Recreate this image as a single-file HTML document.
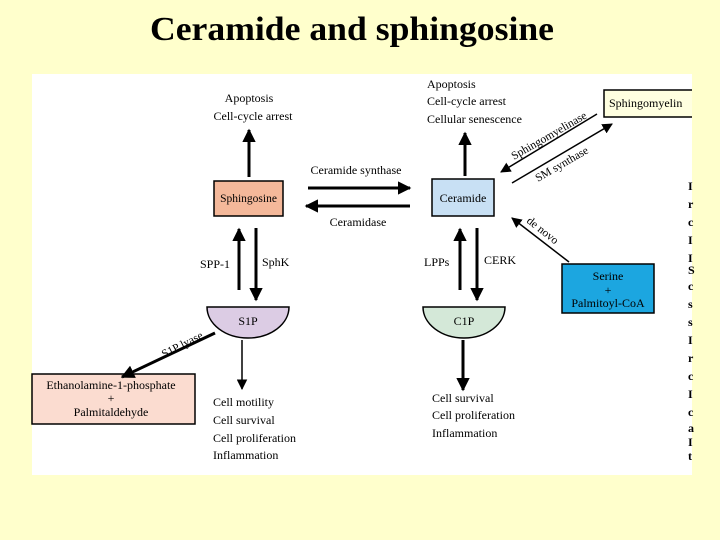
<!DOCTYPE html>
<html><head><style>
body{margin:0;width:720px;height:540px;background:#FFFFCC;overflow:hidden}
svg{position:absolute;left:0;top:0}
</style></head><body>
<svg width="720" height="540" viewBox="0 0 720 540" font-family="Liberation Serif, serif">
<defs>
<marker id="a" viewBox="0 0 10 10" refX="9" refY="5" markerWidth="4.5" markerHeight="4.5" orient="auto"><path d="M0,0L10,5L0,10z" fill="#000"/></marker>
<marker id="b" viewBox="0 0 10 10" refX="9" refY="5" markerWidth="7" markerHeight="7" orient="auto"><path d="M0,0L10,5L0,10z" fill="#000"/></marker>
</defs>
<text x="352" y="40" font-size="34" font-weight="bold" text-anchor="middle" textLength="404" lengthAdjust="spacingAndGlyphs">Ceramide and sphingosine</text>
<rect x="32" y="74" width="660" height="401" fill="#fff"/>
<g font-size="12" fill="#000">
<text x="249" y="102" text-anchor="middle">Apoptosis</text>
<text x="253" y="120" text-anchor="middle">Cell-cycle arrest</text>
<text x="427" y="88">Apoptosis</text>
<text x="427" y="105">Cell-cycle arrest</text>
<text x="427" y="123">Cellular senescence</text>
<text x="356" y="174" text-anchor="middle">Ceramide synthase</text>
<text x="358" y="226" text-anchor="middle">Ceramidase</text>
<text x="200" y="268">SPP-1</text>
<text x="262" y="266">SphK</text>
<text x="424" y="266">LPPs</text>
<text x="484" y="264">CERK</text>
<text x="213" y="406">Cell motility</text>
<text x="213" y="424">Cell survival</text>
<text x="213" y="442">Cell proliferation</text>
<text x="213" y="459">Inflammation</text>
<text x="432" y="402">Cell survival</text>
<text x="432" y="419">Cell proliferation</text>
<text x="432" y="437">Inflammation</text>
</g>
<rect x="214" y="181" width="69" height="35" fill="#F4B89A" stroke="#000" stroke-width="1.5"/>
<text x="248.5" y="202" font-size="11.5" text-anchor="middle">Sphingosine</text>
<rect x="432" y="179" width="62" height="37" fill="#C8E0F4" stroke="#000" stroke-width="1.5"/>
<text x="463" y="202" font-size="12" text-anchor="middle">Ceramide</text>
<path d="M692,90H604V117H692" fill="#FFFFE0" stroke="#000" stroke-width="1.5"/>
<text x="609" y="107" font-size="12">Sphingomyelin</text>
<rect x="562" y="264" width="92" height="49" fill="#1CA6E0" stroke="#000" stroke-width="1.5"/>
<g font-size="12" text-anchor="middle"><text x="608" y="280">Serine</text><text x="608" y="294">+</text><text x="608" y="307">Palmitoyl-CoA</text></g>
<rect x="32" y="374" width="163" height="50" fill="#FBDCD0" stroke="#000" stroke-width="1.5"/>
<g font-size="12" text-anchor="middle"><text x="111" y="389">Ethanolamine-1-phosphate</text><text x="111" y="402">+</text><text x="111" y="416">Palmitaldehyde</text></g>
<path d="M207,307H289A41,31 0 0 1 207,307Z" fill="#DCCCE4" stroke="#000" stroke-width="1.5"/>
<text x="248" y="325" font-size="12" text-anchor="middle">S1P</text>
<path d="M423,307H505A41,31 0 0 1 423,307Z" fill="#D4E8D8" stroke="#000" stroke-width="1.5"/>
<text x="464" y="325" font-size="12" text-anchor="middle">C1P</text>
<g stroke="#000" stroke-width="3" marker-end="url(#a)">
<line x1="249" y1="177" x2="249" y2="130"/>
<line x1="465" y1="176" x2="465" y2="133"/>
<line x1="308" y1="188" x2="410" y2="188"/>
<line x1="410" y1="206" x2="306" y2="206"/>
<line x1="239" y1="290" x2="239" y2="229"/>
<line x1="256" y1="228" x2="256" y2="300"/>
<line x1="460" y1="290" x2="460" y2="229"/>
<line x1="477" y1="228" x2="477" y2="300"/>
<line x1="463" y1="340" x2="463" y2="390"/>
<line x1="215" y1="333" x2="122" y2="377"/>
</g>
<g stroke="#000" stroke-width="1.5" marker-end="url(#b)">
<line x1="597" y1="114" x2="501" y2="172"/>
<line x1="512" y1="183" x2="612" y2="124"/>
<line x1="569" y1="262" x2="512" y2="218"/>
<line x1="242" y1="340" x2="242" y2="389"/>
</g>
<g font-size="11.5">
<text transform="translate(514,160) rotate(-30)">Sphingomyelinase</text>
<text transform="translate(538,182) rotate(-30)">SM synthase</text>
<text transform="translate(526,222) rotate(38)">de novo</text>
<text transform="translate(164,358) rotate(-27)">S1P lyase</text>
</g>
<g font-size="12" font-weight="bold">
<text x="688" y="190">I</text><text x="688" y="208">r</text><text x="688" y="226">c</text><text x="688" y="244">I</text><text x="688" y="262">I</text><text x="688" y="274">S</text><text x="688" y="290">c</text><text x="688" y="308">s</text><text x="688" y="326">s</text><text x="688" y="344">I</text><text x="688" y="362">r</text><text x="688" y="380">c</text><text x="688" y="398">I</text><text x="688" y="416">c</text><text x="688" y="432">a</text><text x="688" y="446">I</text><text x="688" y="460">t</text>
</g>
</svg>
</body></html>
